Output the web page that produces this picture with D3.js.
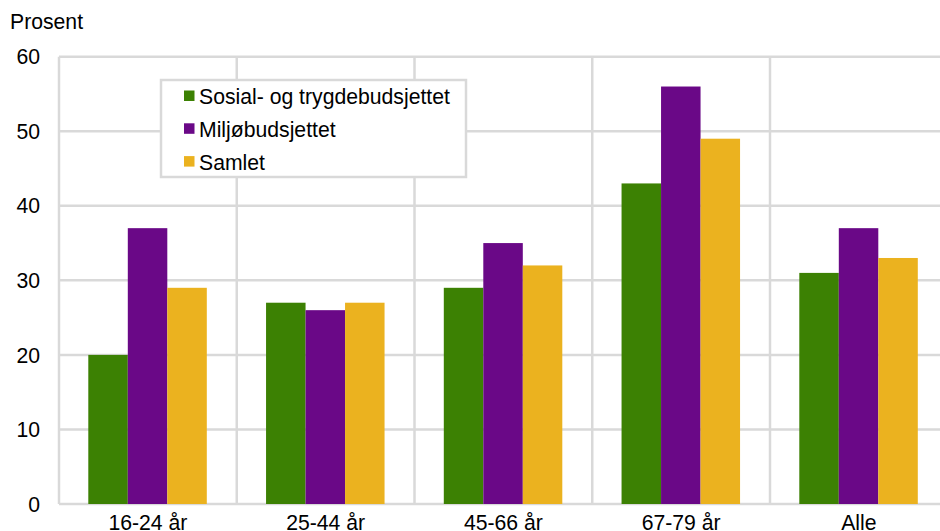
<!DOCTYPE html>
<html lang="no">
<head>
    <meta charset="UTF-8">
    <title>Prosent etter alder</title>
    <script src="https://d3js.org/d3.v7.min.js"></script>
    <style>
        body {
            margin: 0;
            font-family: "Liberation Sans", Arial, sans-serif;
            background: white;
        }
        svg text {
            fill: #000;
            font-size: 21.2px;
        }
    </style>
</head>
<body>
    <div id="chart"></div>

    <script>
        // Data
        const categories = ["16-24 år", "25-44 år", "45-66 år", "67-79 år", "Alle"];
        const seriesNames = ["Sosial- og trygdebudsjettet", "Miljøbudsjettet", "Samlet"];
        const sosial = [20, 27, 29, 43, 31];
        const miljo = [37, 26, 35, 56, 37];
        const samlet = [29, 27, 32, 49, 33];
        const yTicks = [0, 10, 20, 30, 40, 50, 60];

        const seriesValues = [sosial, miljo, samlet];
        const colors = ["#3c8103", "#6a0887", "#ebb21f"];
        const gridColor = "#d9d9d9";

        // Layout
        const W = 940, H = 531;
        const plotLeft = 59, plotTop = 56.7, plotBottom = 504;
        const catWidth = 177.75;

        const svg = d3.select("#chart")
            .append("svg")
            .attr("width", W)
            .attr("height", H);

        const x = d3.scaleBand()
            .domain(categories)
            .range([plotLeft, plotLeft + catWidth * categories.length])
            .padding(0);

        const xInner = d3.scaleBand()
            .domain(d3.range(seriesNames.length))
            .range([29.3, 29.3 + 118.5])
            .padding(0);

        const y = d3.scaleLinear()
            .domain([0, 60])
            .range([plotBottom, plotTop]);

        // Horizontal grid lines
        svg.append("g")
            .selectAll("line")
            .data(yTicks)
            .join("line")
            .attr("x1", plotLeft)
            .attr("x2", W)
            .attr("y1", d => y(d))
            .attr("y2", d => y(d))
            .attr("stroke", gridColor)
            .attr("stroke-width", 2.5);

        // Vertical grid lines between categories
        svg.append("g")
            .selectAll("line")
            .data(categories)
            .join("line")
            .attr("x1", d => x(d))
            .attr("x2", d => x(d))
            .attr("y1", y(60))
            .attr("y2", y(0))
            .attr("stroke", gridColor)
            .attr("stroke-width", 2.5);

        // Y tick labels
        svg.append("g")
            .selectAll("text")
            .data(yTicks)
            .join("text")
            .attr("x", 40)
            .attr("y", d => y(d))
            .attr("dy", "0.36em")
            .attr("text-anchor", "end")
            .text(d => d);

        svg.append("text")
            .attr("x", 10)
            .attr("y", 29.3)
            .text("Prosent");

        // Bars
        seriesValues.forEach((values, si) => {
            svg.append("g")
                .selectAll("rect")
                .data(values)
                .join("rect")
                .attr("x", (d, i) => x(categories[i]) + xInner(si))
                .attr("width", xInner.bandwidth())
                .attr("y", d => y(d))
                .attr("height", d => y(0) - y(d))
                .attr("fill", colors[si]);
        });

        // Category labels
        svg.append("g")
            .selectAll("text")
            .data(categories)
            .join("text")
            .attr("x", d => x(d) + x.bandwidth() / 2)
            .attr("y", 530)
            .attr("text-anchor", "middle")
            .text(d => d);

        // Legend
        const legend = svg.append("g");

        legend.append("rect")
            .attr("x", 161)
            .attr("y", 80)
            .attr("width", 305)
            .attr("height", 97)
            .attr("fill", "white")
            .attr("stroke", gridColor)
            .attr("stroke-width", 2.5);

        seriesNames.forEach((name, i) => {
            const cy = 96 + i * 32.8;
            legend.append("rect")
                .attr("x", 184)
                .attr("y", cy - 5.5)
                .attr("width", 10.5)
                .attr("height", 10.5)
                .attr("fill", colors[i]);
            legend.append("text")
                .attr("x", 199)
                .attr("y", cy + 8)
                .text(name);
        });
    </script>
</body>
</html>
